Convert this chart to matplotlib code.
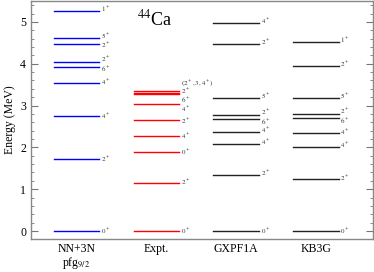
import numpy as np
import matplotlib
matplotlib.use('Agg')
import matplotlib.pyplot as plt

plt.rcParams['font.family'] = ['Liberation Serif', 'DejaVu Serif']
plt.rcParams['mathtext.fontset'] = 'stix'

# 能级数据 (MeV)
columns = ['NN+3N\npfg$_{9/2}$', 'Expt.', 'GXPF1A', 'KB3G']
colors = ['#0000ff', '#ff0000', '#222222', '#222222']

nn3n_E = [0.0, 1.72, 2.76, 3.55, 3.93, 4.04, 4.47, 4.61, 5.26]
nn3n_J = ['0', '2', '4', '4', '6', '2', '2', '5', '1']

expt_E = [0.0, 1.157, 1.884, 2.283, 2.657, 3.044, 3.285, 3.301, 3.357]
expt_J = ['$0^+$', '$2^+$', '$0^+$', '$4^+$', '$2^+$', '$4^+$', '$6^+$', '$2^+$', '$(2^+,3,4^+)$']

gx_E = [0.0, 1.35, 2.09, 2.37, 2.68, 2.78, 3.19, 4.48, 4.98]
gx_J = ['0', '2', '4', '4', '6', '2', '5', '2', '4']

kb_E = [0.0, 1.24, 2.02, 2.34, 2.71, 2.79, 3.18, 3.95, 4.52]
kb_J = ['0', '2', '4', '4', '6', '2', '5', '2', '1']

# 标签的竖直位置（避免重叠）
nn3n_lab = [0.0, 1.72, 2.74, 3.55, 3.86, 4.11, 4.43, 4.65, 5.29]
expt_lab = [0.0, 1.157, 1.884, 2.27, 2.63, 2.92, 3.13, 3.34, 3.54]
gx_lab = [0.0, 1.37, 2.11, 2.41, 2.61, 2.85, 3.22, 4.51, 5.01]
kb_lab = [0.0, 1.26, 2.04, 2.37, 2.63, 2.86, 3.21, 3.98, 4.55]

fig = plt.figure(figsize=(3.74, 2.72), dpi=100)
ax = fig.add_axes([31/374, 33/272, 342/374, 238/272])

half = 0.286
all_E = [nn3n_E, expt_E, gx_E, kb_E]
all_J = [nn3n_J, expt_J, gx_J, kb_J]
all_lab = [nn3n_lab, expt_lab, gx_lab, kb_lab]

for i in range(4):
    x0 = i + 1
    for e, j, ly in zip(all_E[i], all_J[i], all_lab[i]):
        ax.plot([x0 - half, x0 + half], [e, e], color=colors[i], lw=1.0)
        txt = j if j.startswith('$') else '$' + j + '^+$'
        ax.text(x0 + half + 0.02, ly, txt, fontsize=5, ha='left', va='center',
                color='#333333')

ax.text(1.98, 5.07, '$^{44}$Ca', fontsize=13, ha='center', va='center')

ax.set_xlim(0.43, 4.714)
ax.set_ylim(-0.19, 5.5)
ax.set_xticks([1, 2, 3, 4])
ax.set_xticklabels(columns, fontsize=8.5, linespacing=0.95)
ax.tick_params(axis='x', length=0, pad=3)
ax.set_yticks([0, 1, 2, 3, 4, 5])
ax.set_yticks(np.arange(0, 5.5, 0.2), minor=True)
ax.tick_params(axis='y', which='both', direction='in', left=True, right=True,
               labelsize=8.5, colors='#777777', labelcolor='black')
ax.tick_params(axis='y', which='major', length=5)
ax.tick_params(axis='y', which='minor', length=2.5)
ax.set_ylabel('Energy (MeV)', fontsize=8.5, labelpad=3)
for s in ax.spines.values():
    s.set_color('#888888')
    s.set_linewidth(1.0)

fig.savefig('out.png', dpi=100)
